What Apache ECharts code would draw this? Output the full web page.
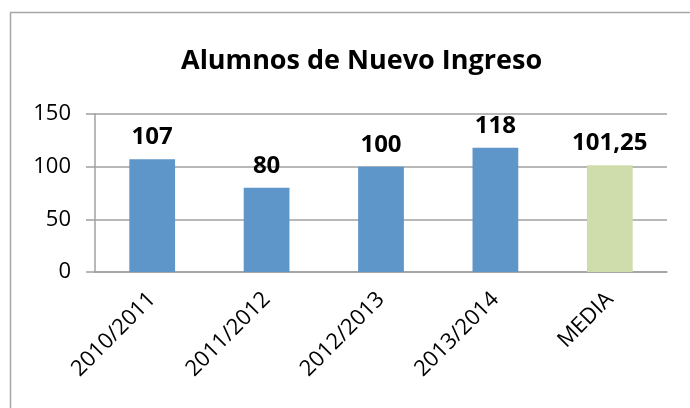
<!DOCTYPE html>
<html>
<head>
<meta charset="utf-8">
<script src="https://cdn.jsdelivr.net/npm/echarts@6/dist/echarts.min.js"></script>
<style>
  html, body { margin: 0; padding: 0; background: #fff; }
  #main { width: 690px; height: 408px; }
</style>
</head>
<body>
<div id="main"></div>
<script>
// datos del gráfico
var cursos = ['2010/2011', '2011/2012', '2012/2013', '2013/2014', 'MEDIA'];
var alumnos = [107, 80, 100, 118, 101.25];
var colores = ['#5f96ca', '#5f96ca', '#5f96ca', '#5f96ca', '#cfdcab'];

var myChart = echarts.init(document.getElementById('main'));

var fuente = '"Open Sans", "Liberation Sans", sans-serif';

var option = {
    animation: false,
    backgroundColor: '#fff',
    textStyle: { fontFamily: fuente },
    title: {
        text: 'Alumnos de Nuevo Ingreso',
        left: 176,
        top: 43,
        textStyle: { fontSize: 27, fontWeight: 'bold', color: '#000', fontFamily: fuente }
    },
    // marco del gráfico (solo se ven el borde superior e izquierdo)
    graphic: [{
        type: 'rect',
        shape: { x: 10.5, y: 12.5, width: 700, height: 420 },
        style: { fill: 'none', stroke: '#a6a6a6', lineWidth: 1.5 },
        silent: true
    }],
    grid: { left: 95, right: 23, top: 114, bottom: 136 },
    xAxis: {
        type: 'category',
        data: cursos,
        axisLine: { lineStyle: { color: '#a0a0a0', width: 1.5 } },
        axisTick: { length: 10, lineStyle: { color: '#a0a0a0', width: 1.5 } },
        axisLabel: { rotate: 45, margin: 24, fontSize: 22, color: '#000', fontFamily: fuente }
    },
    yAxis: {
        type: 'value',
        min: 0,
        max: 150,
        interval: 50,
        axisLine: { show: true, lineStyle: { color: '#a0a0a0', width: 1.5 } },
        axisTick: { show: true, length: 9, lineStyle: { color: '#a0a0a0', width: 1.5 } },
        splitLine: { lineStyle: { color: '#a0a0a0', width: 1.5 } },
        axisLabel: { margin: 24, fontSize: 22, color: '#000', fontFamily: fuente }
    },
    series: [{
        type: 'bar',
        barWidth: '40%',
        data: alumnos.map(function (v, i) {
            return { value: v, itemStyle: { color: colores[i] } };
        }),
        label: {
            show: true,
            position: 'top',
            distance: 10,
            fontSize: 24,
            fontWeight: 'bold',
            color: '#000',
            fontFamily: fuente,
            formatter: function (p) {
                return String(p.value).replace('.', ',');
            }
        }
    }]
};

myChart.setOption(option);
</script>
</body>
</html>
